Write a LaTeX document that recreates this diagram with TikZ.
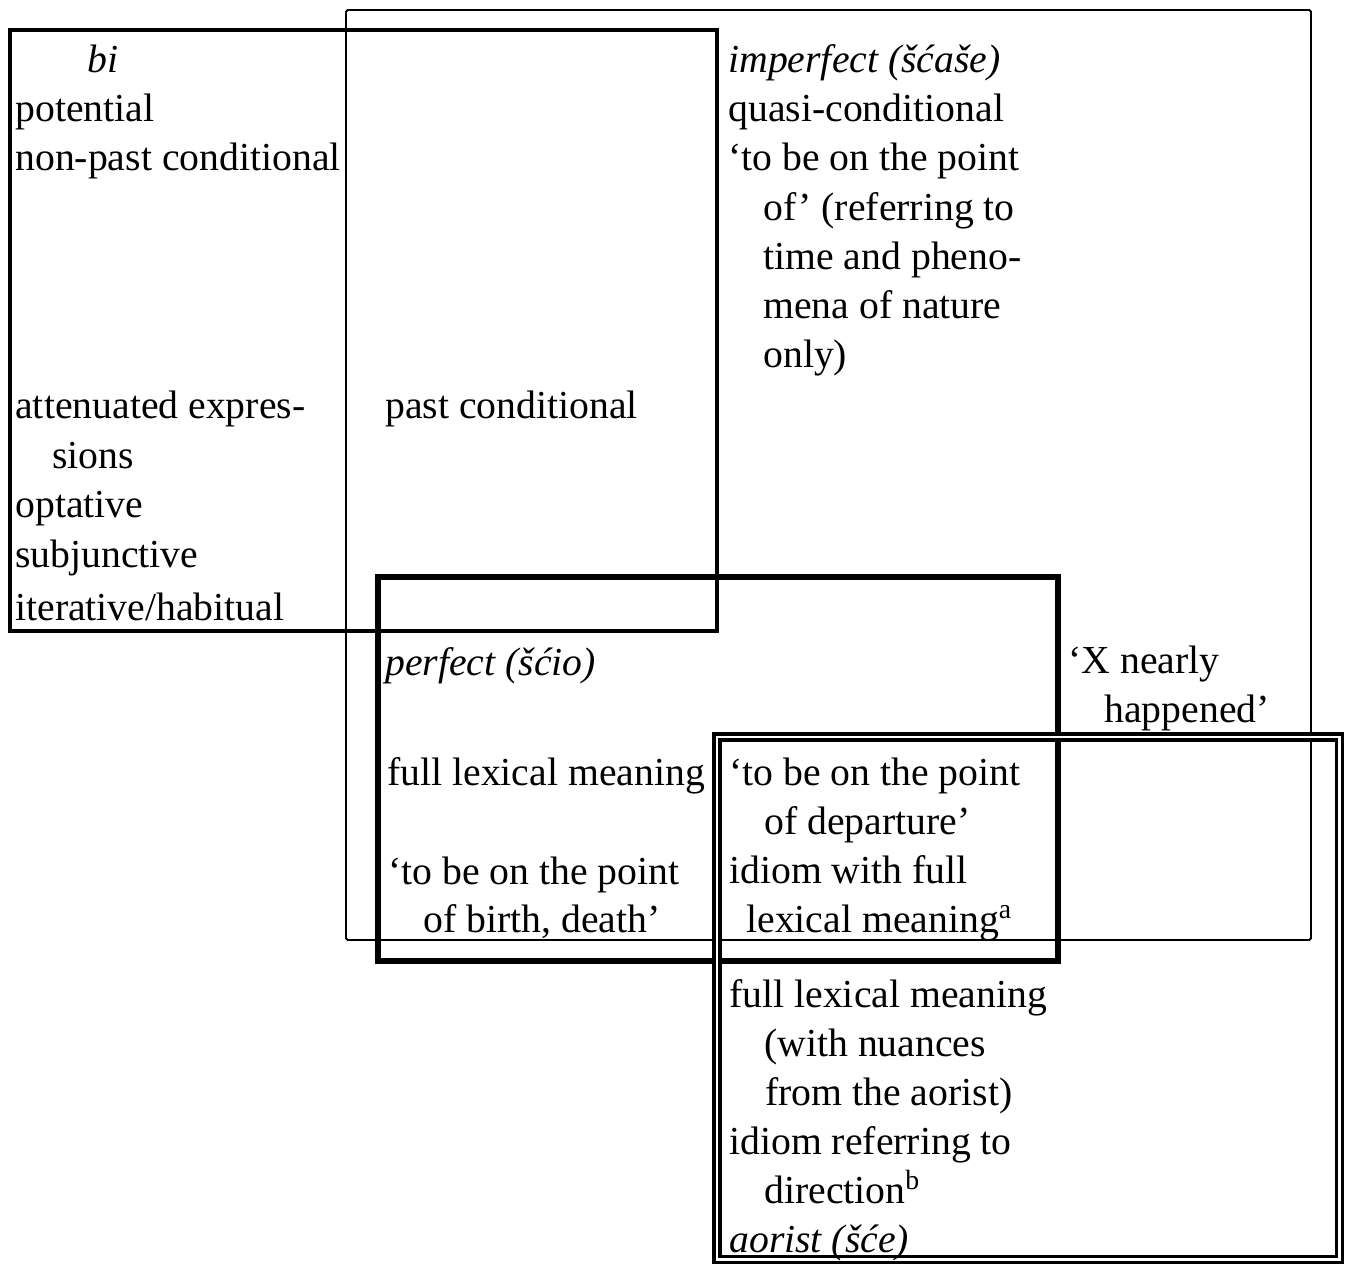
\documentclass[tikz,border=0pt]{standalone}
\usepackage{fontspec}
\setmainfont{Liberation Serif}

\begin{document}
\begin{tikzpicture}[
  x=0.02cm,
  y=-0.02cm,
  every node/.style={font=\fontsize{22.6}{27.9}\selectfont, anchor=base west, inner sep=0pt},
  thinbox/.style={line width=1.1pt, rounded corners=1pt},
  midbox/.style={line width=2.4pt},
  heavybox/.style={line width=3.8pt},
  dblbox/.style={line width=1.8pt, double, double distance=1.6pt},
  form/.style={font=\fontsize{22.6}{27.9}\selectfont\itshape}
]
  % ---- frame of the page ----
  \useasboundingbox (0,0) rectangle (1349,1265);

  % ---- the four overlapping fields ----
  \draw[thinbox]  (346,10)  rectangle (1311,940);   % imperfect
  \draw[midbox]   (10,30)   rectangle (717,631);    % bi
  \draw[heavybox] (378,577) rectangle (1058,961);   % perfect
  \draw[dblbox]   (717,737) rectangle (1339.5,1259.5); % aorist

  % ---- bi ----
  \node[form] (bi) at (87,72) {bi};
  \node (potential)   at (15,121) {potential};
  \node (nonpast)     at (15,170) {non-past conditional};
  \node (attenuated)  at (15,418) {attenuated expres-};
  \node (sions)       at (52,468) {sions};
  \node (optative)    at (15,517) {optative};
  \node (subjunctive) at (15,567) {subjunctive};
  \node (iterative)   at (15,620) {iterative/habitual};

  % ---- imperfect ----
  \node[form] (imperfect) at (728,72) {imperfect (šćaše)};
  \node (quasi)    at (728,121) {quasi-conditional};
  \node (pointa)   at (728,170) {‘to be on the point};
  \node (pointb)   at (763,220) {of’ (referring to};
  \node (pointc)   at (763,269) {time and pheno-};
  \node (pointd)   at (763,318) {mena of nature};
  \node (pointe)   at (763,367) {only)};

  % ---- bi and imperfect ----
  \node (pastcond) at (385,418) {past conditional};

  % ---- perfect ----
  \node[form] (perfect) at (385,675) {perfect (šćio)};
  \node (fulllex)  at (387,785) {full lexical meaning};
  \node (birtha)   at (388,884) {‘to be on the point};
  \node (birthb)   at (423,932) {of birth, death’};

  % ---- imperfect only, right ----
  \node (nearlya)  at (1068,673) {‘X nearly};
  \node (nearlyb)  at (1104,722) {happened’};

  % ---- perfect and aorist ----
  \node (departa)  at (729,785) {‘to be on the point};
  \node (departb)  at (764,834) {of departure’};
  \node (idioma)   at (729,883) {idiom with full};
  \node (idiomb)   at (746,932) {lexical meaning\textsuperscript{a}};

  % ---- aorist ----
  \node (aorlex)   at (729,1007) {full lexical meaning};
  \node (nuancea)  at (764,1056) {(with nuances};
  \node (nuanceb)  at (765,1105) {from the aorist)};
  \node (direca)   at (729,1154) {idiom referring to};
  \node (direcb)   at (764,1203) {direction\textsuperscript{b}};
  \node[form] (aorist) at (729,1252) {aorist (šće)};
\end{tikzpicture}
\end{document}
